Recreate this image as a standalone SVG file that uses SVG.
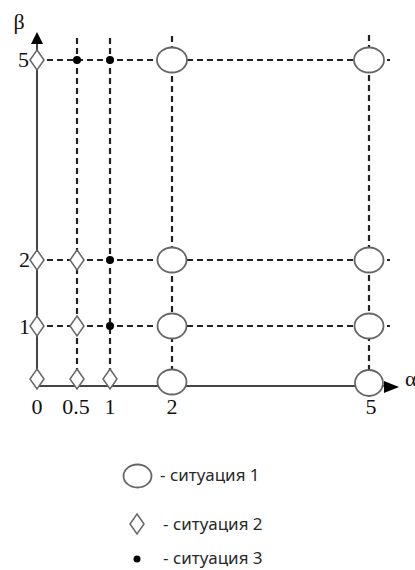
<svg xmlns="http://www.w3.org/2000/svg" width="415" height="570" viewBox="0 0 415 570">
<style>
.dash{stroke:#222;stroke-width:2.2;stroke-dasharray:6 4;fill:none}
.axis{stroke:#444;stroke-width:2;fill:none}
.ell{fill:#fff;stroke:#666;stroke-width:1.8}
.dia{fill:#fff;stroke:#666;stroke-width:1.5}
.dot{fill:#000}
.lab{font-family:"Liberation Serif",serif;font-size:22px;fill:#111}
.leg{font-family:"Noto Sans",sans-serif;font-size:17px;fill:#2a2a2a}
</style>
<defs>
<path id="d" d="M0,-10 L7,0 L0,10 L-7,0 Z"/>
</defs>
<rect width="415" height="570" fill="#fff"/>
<g id="connectors">
<line class="dash" x1="37" y1="60" x2="390" y2="60"/>
<line class="dash" x1="37" y1="260" x2="390" y2="260"/>
<line class="dash" x1="37" y1="326" x2="390" y2="326"/>
<line class="dash" x1="77" y1="38" x2="77" y2="386"/>
<line class="dash" x1="110" y1="38" x2="110" y2="386"/>
<line class="dash" x1="172" y1="36" x2="172" y2="386"/>
<line class="dash" x1="369" y1="35" x2="369" y2="386"/>
<line class="axis" x1="37" y1="42" x2="37" y2="386"/>
<line class="axis" x1="36" y1="386" x2="385" y2="386"/>
<polygon points="37,32 31,44 43,44" fill="#000"/>
<polygon points="399,387 384,381 384,393" fill="#000"/>
</g>
<g id="labels">
<text class="lab" x="19" y="29" text-anchor="middle">β</text>
<text class="lab" x="405" y="386">α</text>
<text class="lab" x="29" y="67" text-anchor="end">5</text>
<text class="lab" x="30" y="267" text-anchor="end">2</text>
<text class="lab" x="30" y="334" text-anchor="end">1</text>
<text class="lab" x="37" y="414" text-anchor="middle">0</text>
<text class="lab" x="76" y="414" text-anchor="middle">0.5</text>
<text class="lab" x="110" y="414" text-anchor="middle">1</text>
<text class="lab" x="172" y="414" text-anchor="middle">2</text>
<text class="lab" x="371" y="414" text-anchor="middle">5</text>
</g>
<g id="row5">
<use href="#d" class="dia" x="37" y="60"/>
<circle class="dot" cx="77" cy="60" r="4"/>
<circle class="dot" cx="110" cy="60" r="4"/>
<ellipse class="ell" cx="172" cy="60" rx="15" ry="12.5"/>
<ellipse class="ell" cx="369" cy="60" rx="15" ry="12.5"/>
</g>
<g id="row2">
<use href="#d" class="dia" x="37" y="260"/>
<use href="#d" class="dia" x="77" y="260"/>
<circle class="dot" cx="110" cy="260" r="4"/>
<ellipse class="ell" cx="172" cy="260" rx="14.5" ry="12.5"/>
<ellipse class="ell" cx="369" cy="260" rx="14.5" ry="12.5"/>
</g>
<g id="row1">
<use href="#d" class="dia" x="37" y="326"/>
<use href="#d" class="dia" x="77" y="326"/>
<circle class="dot" cx="110" cy="326" r="4"/>
<ellipse class="ell" cx="172" cy="326" rx="14.5" ry="12.5"/>
<ellipse class="ell" cx="369" cy="326" rx="14.5" ry="12.5"/>
</g>
<g id="row0">
<use href="#d" class="dia" x="37" y="379"/>
<use href="#d" class="dia" x="77" y="379"/>
<use href="#d" class="dia" x="110" y="379"/>
<ellipse class="ell" cx="172" cy="382" rx="14.5" ry="12.5"/>
<ellipse class="ell" cx="369" cy="383" rx="14" ry="13"/>
</g>
<g id="legend">
<ellipse class="ell" cx="137.5" cy="476" rx="14" ry="11.5"/>
<text class="leg" x="160" y="481">- ситуация 1</text>
<use href="#d" class="dia" x="137" y="524"/>
<text class="leg" x="163" y="530">- ситуация 2</text>
<circle class="dot" cx="137" cy="559" r="3.5"/>
<text class="leg" x="163" y="564">- ситуация 3</text>
</g>
</svg>
